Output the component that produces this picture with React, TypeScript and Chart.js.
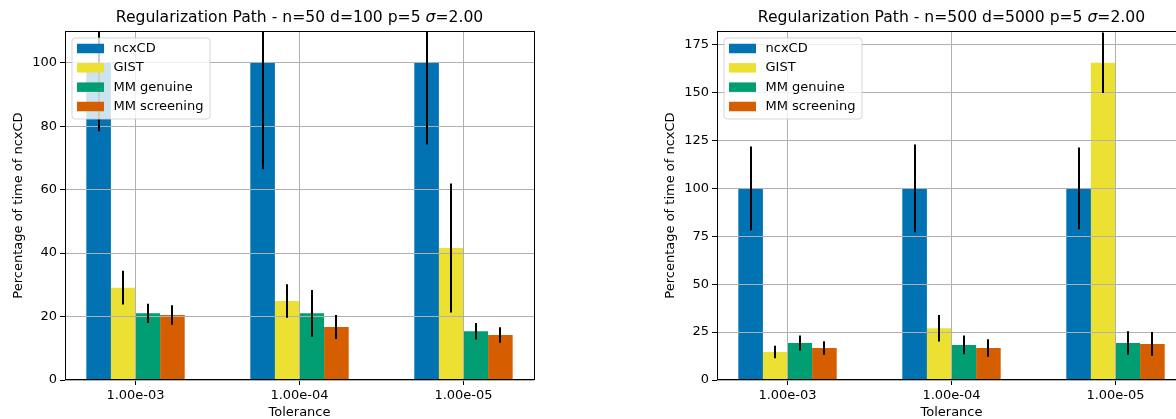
import React, { useEffect, useRef } from 'react';
import { Chart, registerables } from 'chart.js';

Chart.register(...registerables);

const FONT = '"DejaVu Sans", sans-serif';

const categories = ['1.00e-03', '1.00e-04', '1.00e-05'];
const seriesNames = ['ncxCD', 'GIST', 'MM genuine', 'MM screening'];
const seriesColors = ['#0173B2', '#ECE133', '#029E73', '#D55E00'];

// Left panel: n=50 d=100
const leftTitle = ['Regularization Path - n=50 d=100 p=5 ', 'σ', '=2.00'];
const leftNcxcd = [100, 100, 100];
const leftNcxcdErr = [21.6, 33.6, 25.8];
const leftGist = [29.1, 24.9, 41.6];
const leftGistErr = [5.3, 5.3, 20.3];
const leftMmGenuine = [21.0, 21.0, 15.4];
const leftMmGenuineErr = [3.05, 7.35, 2.6];
const leftMmScreening = [20.5, 16.7, 14.2];
const leftMmScreeningErr = [3.05, 3.8, 2.45];
const leftYStep = 20;

// Right panel: n=500 d=5000
const rightTitle = ['Regularization Path - n=500 d=5000 p=5 ', 'σ', '=2.00'];
const rightNcxcd = [100, 100, 100];
const rightNcxcdErr = [21.9, 22.9, 21.3];
const rightGist = [14.6, 27.0, 165.6];
const rightGistErr = [3.25, 6.9, 15.75];
const rightMmGenuine = [19.3, 18.3, 19.3];
const rightMmGenuineErr = [3.95, 4.9, 6.1];
const rightMmScreening = [16.7, 16.7, 18.8];
const rightMmScreeningErr = [3.55, 4.6, 6.2];
const rightYStep = 25;

type PanelProps = {
  title: string[];
  values: number[][];
  errors: number[][];
  yStep: number;
  left: number;
};

function Panel({ title, values, errors, yStep, left }: PanelProps) {
  const ref = useRef<HTMLCanvasElement | null>(null);

  useEffect(() => {
    if (!ref.current) return;
    const yMax = 1.1 * Math.max(...values.flat());

    const overlay = {
      id: 'overlay',
      afterDraw(chart: any) {
        const ctx = chart.ctx;
        const area = chart.chartArea;
        const yScale = chart.scales.y;
        // error bars
        ctx.save();
        ctx.beginPath();
        ctx.rect(area.left, area.top, area.right - area.left, area.bottom - area.top);
        ctx.clip();
        ctx.strokeStyle = '#000';
        ctx.lineWidth = 2;
        values.forEach((series, i) => {
          const meta = chart.getDatasetMeta(i);
          series.forEach((v, j) => {
            const bar = meta.data[j];
            const e = errors[i][j];
            const x = Math.round(bar.x);
            ctx.beginPath();
            ctx.moveTo(x, yScale.getPixelForValue(v + e));
            ctx.lineTo(x, yScale.getPixelForValue(v - e));
            ctx.stroke();
          });
        });
        ctx.restore();

        // spines
        ctx.save();
        ctx.strokeStyle = '#000';
        ctx.lineWidth = 1;
        ctx.strokeRect(
          Math.round(area.left) + 0.5,
          Math.round(area.top) + 0.5,
          Math.round(area.right - area.left),
          Math.round(area.bottom - area.top) - 1
        );
        ctx.restore();

        // legend
        ctx.save();
        const bx = area.left + 7;
        const by = area.top + 7;
        const bw = 138;
        const bh = 81;
        const r = 3;
        ctx.beginPath();
        ctx.moveTo(bx + r, by);
        ctx.lineTo(bx + bw - r, by);
        ctx.arcTo(bx + bw, by, bx + bw, by + r, r);
        ctx.lineTo(bx + bw, by + bh - r);
        ctx.arcTo(bx + bw, by + bh, bx + bw - r, by + bh, r);
        ctx.lineTo(bx + r, by + bh);
        ctx.arcTo(bx, by + bh, bx, by + bh - r, r);
        ctx.lineTo(bx, by + r);
        ctx.arcTo(bx, by, bx + r, by, r);
        ctx.closePath();
        ctx.fillStyle = 'rgba(255,255,255,0.8)';
        ctx.fill();
        ctx.strokeStyle = 'rgba(204,204,204,0.8)';
        ctx.lineWidth = 1;
        ctx.stroke();
        ctx.font = '13px ' + FONT;
        ctx.textBaseline = 'middle';
        ctx.textAlign = 'left';
        seriesNames.forEach((name, i) => {
          const cy = by + 10.5 + i * 19.33;
          ctx.fillStyle = seriesColors[i];
          ctx.fillRect(bx + 5, cy - 4.75, 27, 9.5);
          ctx.fillStyle = '#000';
          ctx.fillText(name, bx + 41.5, cy);
        });
        ctx.restore();

        // title with italic sigma
        ctx.save();
        const fonts = ['15.6px ' + FONT, 'italic 15.6px ' + FONT, '15.6px ' + FONT];
        let total = 0;
        const widths = title.map((t, k) => {
          ctx.font = fonts[k];
          const w = ctx.measureText(t).width;
          total += w;
          return w;
        });
        let x = (area.left + area.right) / 2 - total / 2;
        ctx.fillStyle = '#000';
        ctx.textBaseline = 'alphabetic';
        ctx.textAlign = 'left';
        title.forEach((t, k) => {
          ctx.font = fonts[k];
          ctx.fillText(t, x, 21.5);
          x += widths[k];
        });
        ctx.restore();
      },
    };

    const chart = new Chart(ref.current, {
      type: 'bar',
      data: {
        datasets: values.map((series, i) => ({
          label: seriesNames[i],
          data: series.map((v, j) => ({ x: j, y: v })),
          backgroundColor: seriesColors[i],
          borderWidth: 0,
          categoryPercentage: 0.6,
          barPercentage: 1.0,
        })),
      },
      options: {
        responsive: false,
        animation: false,
        devicePixelRatio: 1,
        layout: { padding: { top: 31, right: 54, left: 0, bottom: 0 } },
        plugins: {
          legend: { display: false },
          title: { display: false },
          tooltip: { enabled: false },
        },
        scales: {
          x: {
            type: 'linear',
            offset: false,
            min: -0.43,
            max: 2.43,
            afterBuildTicks: (s: any) => {
              s.ticks = categories.map((_, i) => ({ value: i }));
            },
            afterFit: (s: any) => {
              s.height = 39;
            },
            ticks: {
              callback: (v: any) => categories[v] ?? '',
              font: { family: FONT, size: 13 },
              color: '#000',
              padding: 3,
              maxRotation: 0,
              autoSkip: false,
            },
            grid: {
              offset: false,
              color: '#b0b0b0',
              lineWidth: 1,
              z: 1,
              tickLength: 5,
              tickColor: '#000',
              tickWidth: 1,
            },
            border: { display: false },
            title: {
              display: true,
              text: 'Tolerance',
              font: { family: FONT, size: 13, lineHeight: 1 },
              color: '#000',
              padding: { top: 0, bottom: 0 },
            },
          },
          y: {
            min: 0,
            max: yMax,
            afterFit: (s: any) => {
              s.width = 65;
            },
            ticks: {
              stepSize: yStep,
              includeBounds: false,
              font: { family: FONT, size: 13 },
              color: '#000',
              padding: 3,
            },
            grid: {
              color: '#b0b0b0',
              lineWidth: 1,
              z: 1,
              tickLength: 5,
              tickColor: '#000',
              tickWidth: 1,
            },
            border: { display: false },
            title: {
              display: true,
              text: 'Percentage of time of ncxCD',
              font: { family: FONT, size: 13, lineHeight: 1.2 },
              color: '#000',
              padding: { top: 11, bottom: 0 },
            },
          },
        },
      },
      plugins: [overlay],
    } as any);
    return () => chart.destroy();
  }, []);

  return (
    <canvas
      ref={ref}
      width={588}
      height={419}
      style={{ position: 'absolute', left, top: 0, width: 588, height: 419 }}
    />
  );
}

export default function App() {
  return (
    <div
      style={{
        position: 'fixed',
        left: 0,
        top: 0,
        width: 1176,
        height: 419,
        overflow: 'hidden',
        background: '#fff',
      }}
    >
      <Panel
        title={leftTitle}
        values={[leftNcxcd, leftGist, leftMmGenuine, leftMmScreening]}
        errors={[leftNcxcdErr, leftGistErr, leftMmGenuineErr, leftMmScreeningErr]}
        yStep={leftYStep}
        left={0}
      />
      <Panel
        title={rightTitle}
        values={[rightNcxcd, rightGist, rightMmGenuine, rightMmScreening]}
        errors={[rightNcxcdErr, rightGistErr, rightMmGenuineErr, rightMmScreeningErr]}
        yStep={rightYStep}
        left={652}
      />
    </div>
  );
}
